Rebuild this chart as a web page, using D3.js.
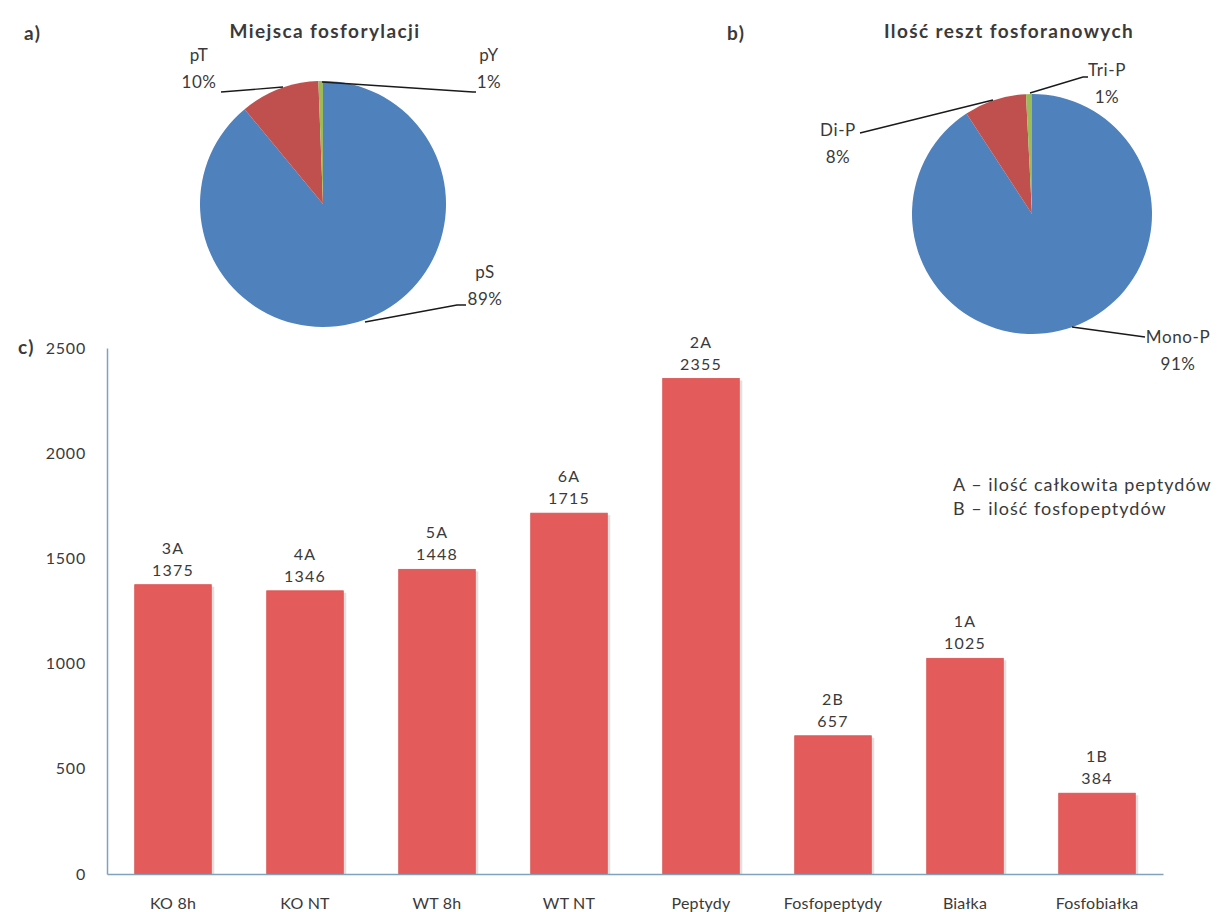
<!DOCTYPE html>
<html><head><meta charset="utf-8">
<script src="https://cdn.jsdelivr.net/npm/d3@7"></script>
<style>
body{margin:0;background:#fff;}
text{font-family:Lato,"Open Sans",sans-serif;fill:#3a3a3a;}
</style></head>
<body><svg id="c" width="1219" height="912"></svg>
<script>
// ---- data ----
const pieALabels = ["pS", "pT", "pY"];
const pieAValues = [89.0, 10.4, 0.6];
const pieBLabels = ["Mono-P", "Di-P", "Tri-P"];
const pieBValues = [90.8, 8.4, 0.8];
const pieColors = ["#4F81BD", "#C0504D", "#9BBB59"];

const barCategories = ["KO 8h", "KO NT", "WT 8h", "WT NT", "Peptydy", "Fosfopeptydy", "Białka", "Fosfobiałka"];
const barValues = [1375, 1346, 1448, 1715, 2355, 657, 1025, 384];
const barTags = ["3A", "4A", "5A", "6A", "2A", "2B", "1A", "1B"];
const yTicks = [0, 500, 1000, 1500, 2000, 2500];
const legendLines = ["A – ilość całkowita peptydów", "B – ilość fosfopeptydów"];

const svg = d3.select("#c");

// ---- panel letters & titles ----
const bold = (x, y, t, anchor) => svg.append("text").attr("x", x).attr("y", y)
  .attr("text-anchor", anchor || "start").attr("font-size", 19).attr("font-weight", "bold")
  .attr("letter-spacing", 1.4).attr("fill", "#111").text(t);
bold(24, 40, "a)");
bold(727, 40, "b)");
bold(18, 354, "c)");
bold(325, 38, "Miejsca fosforylacji", "middle");
bold(1009, 38, "Ilość reszt fosforanowych", "middle");

// ---- pies ----
function drawPie(cx, cy, r, labels, values, labelPos, leaders) {
  const g = svg.append("g").attr("transform", `translate(${cx},${cy})`);
  const pie = d3.pie().sort(null).value(d => d)(values);
  const arc = d3.arc().innerRadius(0).outerRadius(r);
  g.selectAll("path").data(pie).enter().append("path")
    .attr("d", arc).attr("fill", (d, i) => pieColors[i]);
  const total = d3.sum(values);
  leaders.forEach(pts => {
    svg.append("polyline").attr("points", pts.map(p => p.join(",")).join(" "))
      .attr("fill", "none").attr("stroke", "#1a1a1a").attr("stroke-width", 1.4);
  });
  labels.forEach((lab, i) => {
    const p = labelPos[i];
    svg.append("text").attr("x", p[0]).attr("y", p[1]).attr("text-anchor", "middle")
      .attr("font-size", 17).attr("letter-spacing", 0.6).text(lab);
    svg.append("text").attr("x", p[0]).attr("y", p[1] + 27).attr("text-anchor", "middle")
      .attr("font-size", 17).attr("letter-spacing", 0.6)
      .text(Math.round(values[i] / total * 100) + "%");
  });
}
drawPie(323, 204, 123, pieALabels, pieAValues,
  [[485, 278], [199, 61], [489, 61]],
  [[[365, 322], [457, 305], [466, 305]], [[221, 92], [283, 87]], [[322, 82], [473, 92], [476, 92]]]);
drawPie(1032, 214, 120, pieBLabels, pieBValues,
  [[1178, 343], [838, 136], [1107, 76]],
  [[[1072, 327], [1145, 337]], [[860, 133], [993, 100]], [[1030, 93], [1083, 77], [1088, 77]]]);

// ---- bar chart ----
const x = d3.scaleBand().domain(barCategories).range([107, 1163]).paddingInner(0.42).paddingOuter(0.21);
const y = d3.scaleLinear().domain([0, 2500]).range([874, 348]);

const bars = svg.append("g");
barCategories.forEach((c, i) => {
  bars.append("rect").attr("x", x(c) + 3).attr("y", y(barValues[i]) + 2)
    .attr("width", x.bandwidth()).attr("height", y(0) - y(barValues[i]) - 2)
    .attr("fill", "#000").attr("opacity", 0.12);
  bars.append("rect").attr("x", x(c)).attr("y", y(barValues[i]))
    .attr("width", x.bandwidth()).attr("height", y(0) - y(barValues[i]))
    .attr("fill", "#E35B5B").attr("stroke", "#d9534f").attr("stroke-width", 0.8);
  bars.append("text").attr("x", x(c) + x.bandwidth() / 2).attr("y", y(barValues[i]) - 31)
    .attr("text-anchor", "middle").attr("font-size", 16).attr("letter-spacing", 1.2).text(barTags[i]);
  bars.append("text").attr("x", x(c) + x.bandwidth() / 2).attr("y", y(barValues[i]) - 9)
    .attr("text-anchor", "middle").attr("font-size", 16).attr("letter-spacing", 1.2).text(barValues[i]);
});

const yAxis = svg.append("g").attr("transform", "translate(107,0)")
  .call(d3.axisLeft(y).tickValues(yTicks).tickFormat(d3.format("d")).tickSize(0).tickPadding(21));
yAxis.select(".domain").attr("stroke", "#7FA3BA").attr("stroke-width", 1.5);
yAxis.selectAll("text").attr("font-size", 16).attr("letter-spacing", 0.8)
  .attr("font-family", "Lato, sans-serif").attr("fill", "#3a3a3a");

const xAxis = svg.append("g").attr("transform", "translate(0,874)")
  .call(d3.axisBottom(x).tickSize(0).tickPadding(24));
xAxis.select(".domain").attr("stroke", "#7FA3BA").attr("stroke-width", 1.5);
xAxis.selectAll("text").attr("font-size", 16).attr("letter-spacing", 0.2)
  .attr("font-family", "Lato, sans-serif").attr("fill", "#3a3a3a");

// ---- legend text ----
legendLines.forEach((t, i) => {
  svg.append("text").attr("x", 953).attr("y", 491 + i * 24).attr("font-size", 18)
    .attr("letter-spacing", 1).text(t);
});
</script></body></html>
